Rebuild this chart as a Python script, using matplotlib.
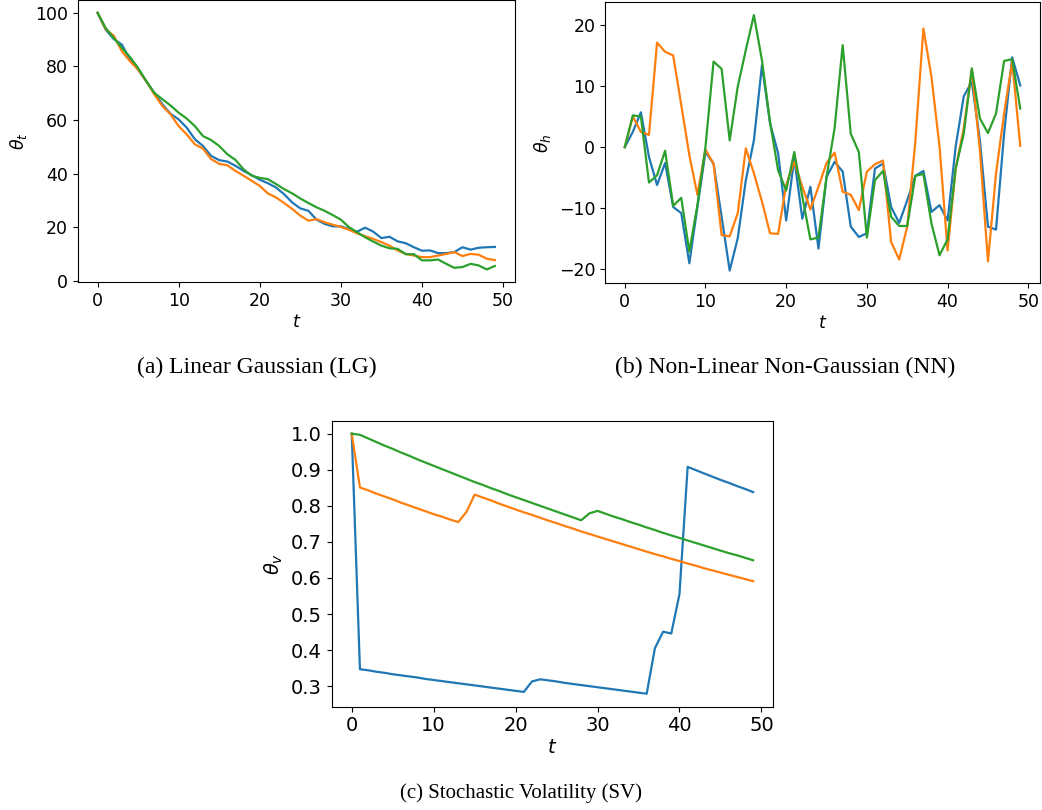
import numpy as np
import matplotlib
matplotlib.use("Agg")
import matplotlib.pyplot as plt

t = np.arange(50)

# (a) Linear Gaussian
lg_blue = [100, 93.7, 90.2, 88.1, 82.5, 78.8, 74.5, 70.1, 65.8, 62.3,
           60.2, 57.1, 52.8, 50.3, 46.6, 45.0, 44.5, 42.9, 41.0, 39.4,
           37.7, 36.4, 34.8, 32.3, 29.2, 27.0, 26.1, 22.8, 21.2, 20.3,
           20.3, 19.3, 18.3, 19.8, 18.3, 15.9, 16.4, 14.7, 14.0, 12.5,
           11.2, 11.3, 10.3, 10.3, 10.7, 12.5, 11.6, 12.3, 12.5, 12.6]
lg_orange = [100, 93.9, 91.4, 85.6, 81.9, 78.8, 74.5, 69.5, 65.2, 62.1,
             57.7, 54.6, 50.9, 49.3, 45.4, 43.6, 43.1, 41.0, 39.2, 37.3,
             35.4, 32.6, 31.1, 29.0, 26.8, 24.3, 22.4, 23.0, 21.8, 20.9,
             20.1, 19.0, 17.7, 16.6, 15.6, 14.4, 13.1, 11.3, 10.0, 9.4,
             8.8, 8.8, 9.4, 10.0, 10.7, 9.2, 10.0, 9.7, 8.2, 7.7]
lg_green = [100, 94.3, 90.6, 86.9, 83.5, 79.4, 74.5, 70.1, 67.7, 65.4,
            62.7, 60.5, 57.7, 54.0, 52.5, 50.3, 47.2, 45.1, 41.6, 39.2,
            38.4, 37.9, 36.1, 34.2, 32.6, 30.7, 29.0, 27.4, 26.1, 24.5,
            22.8, 20.0, 18.1, 16.2, 14.6, 13.1, 12.1, 11.9, 9.9, 9.9,
            7.6, 7.6, 7.9, 6.3, 4.8, 5.1, 6.3, 5.7, 4.2, 5.5]

# (b) Non-Linear Non-Gaussian
nn_blue = [0, 2.5, 5.7, -1.6, -6.2, -2.6, -9.8, -10.8, -19.0, -9.8,
           -0.8, -2.7, -11.4, -20.2, -14.9, -5.4, 1.1, 13.4, 3.9, -1.0,
           -12.0, -1.9, -11.7, -6.5, -16.6, -4.9, -2.4, -4.0, -13.0, -14.7,
           -14.1, -3.5, -2.7, -9.8, -12.4, -8.7, -4.7, -3.9, -10.6, -9.5,
           -12.0, 0.1, 8.3, 10.7, 1.1, -13.0, -13.5, 2.2, 14.7, 10.1]
nn_orange = [0, 5.0, 2.5, 2.0, 17.1, 15.6, 15.0, 6.9, -1.3, -7.8,
             -0.4, -2.7, -14.4, -14.6, -10.8, -0.2, -4.3, -8.9, -14.1, -14.2,
             -6.2, -2.4, -6.5, -10.2, -6.5, -2.6, -0.9, -7.3, -7.8, -10.3,
             -4.0, -2.8, -2.2, -15.5, -18.4, -13.0, 0.9, 19.4, 11.5, 0.05,
             -16.9, -3.5, 3.1, 12.7, -0.5, -18.7, -4.3, 5.5, 14.0, 0.2]
nn_green = [0, 5.2, 5.0, -5.8, -4.6, -0.6, -9.6, -8.3, -17.1, -9.5,
            0.05, 14.0, 12.8, 1.1, 9.9, 15.9, 21.6, 14.2, 4.1, -3.8,
            -7.1, -0.8, -8.1, -15.1, -14.8, -4.9, 3.1, 16.7, 2.2, -0.8,
            -14.8, -5.4, -3.9, -11.4, -12.9, -12.9, -4.7, -4.4, -12.5, -17.7,
            -15.1, -3.5, 2.2, 12.9, 4.7, 2.3, 5.5, 14.1, 14.4, 6.3]

# (c) Stochastic Volatility
sv_blue = [1.000, 0.347, 0.344, 0.340, 0.337, 0.333, 0.330, 0.327, 0.324, 0.320,
           0.317, 0.314, 0.311, 0.308, 0.305, 0.302, 0.299, 0.296, 0.293, 0.290,
           0.287, 0.284, 0.313, 0.319, 0.316, 0.313, 0.309, 0.306, 0.303, 0.300,
           0.297, 0.294, 0.291, 0.288, 0.285, 0.282, 0.279, 0.405, 0.451, 0.446,
           0.555, 0.908, 0.899, 0.890, 0.881, 0.872, 0.864, 0.855, 0.847, 0.838]
sv_orange = [1.000, 0.851, 0.843, 0.834, 0.826, 0.818, 0.809, 0.801, 0.793, 0.785,
             0.777, 0.770, 0.762, 0.755, 0.783, 0.831, 0.823, 0.815, 0.806, 0.798,
             0.790, 0.782, 0.775, 0.767, 0.759, 0.752, 0.744, 0.737, 0.729, 0.722,
             0.715, 0.708, 0.701, 0.694, 0.687, 0.680, 0.673, 0.666, 0.660, 0.653,
             0.647, 0.640, 0.634, 0.627, 0.621, 0.615, 0.609, 0.603, 0.597, 0.591]
sv_green = [1.000, 0.997, 0.987, 0.977, 0.967, 0.958, 0.948, 0.939, 0.929, 0.920,
            0.911, 0.902, 0.893, 0.884, 0.875, 0.866, 0.858, 0.849, 0.841, 0.832,
            0.824, 0.816, 0.808, 0.800, 0.792, 0.784, 0.776, 0.768, 0.760, 0.779,
            0.786, 0.778, 0.770, 0.763, 0.755, 0.748, 0.740, 0.733, 0.725, 0.718,
            0.711, 0.704, 0.697, 0.690, 0.683, 0.676, 0.669, 0.663, 0.656, 0.649]

plt.rcParams['font.size'] = 12.5
plt.rcParams['lines.linewidth'] = 1.6

fig = plt.figure(figsize=(10.42, 8.10), dpi=100)

ax_a = fig.add_axes([0.0746, 0.6515, 0.4194, 0.3485])
ax_b = fig.add_axes([0.5806, 0.6502, 0.4175, 0.3469])
ax_c = fig.add_axes([0.3183, 0.1275, 0.4238, 0.3531])

panels = [
    (ax_a, [lg_blue, lg_orange, lg_green], r'$\theta_t$', 12.5),
    (ax_b, [nn_blue, nn_orange, nn_green], r'$\theta_h$', 12.5),
    (ax_c, [sv_blue, sv_orange, sv_green], r'$\theta_v$', 14),
]
for ax, series, ylab, fs in panels:
    for s, c in zip(series, ['C0', 'C1', 'C2']):
        ax.plot(t, s, color=c)
    ax.set_xlabel(r'$t$', labelpad=2, fontsize=fs)
    ax.set_ylabel(ylab, fontsize=fs)
    ax.tick_params(labelsize=fs)
    ax.set_xticks([0, 10, 20, 30, 40, 50])

ax_a.set_yticks([0, 20, 40, 60, 80, 100])
ax_b.set_yticks([-20, -10, 0, 10, 20])
ax_c.set_yticks([0.3, 0.4, 0.5, 0.6, 0.7, 0.8, 0.9, 1.0])

cap = dict(ha='center', va='center', family='Liberation Serif')
fig.text(0.2465, 1 - 367/810, '(a) Linear Gaussian (LG)', fontsize=17, **cap)
fig.text(0.7535, 1 - 367/810, '(b) Non-Linear Non-Gaussian (NN)', fontsize=17, **cap)
fig.text(0.5, 1 - 793/810, '(c) Stochastic Volatility (SV)', fontsize=15, **cap)

fig.savefig('out.png', dpi=100)
